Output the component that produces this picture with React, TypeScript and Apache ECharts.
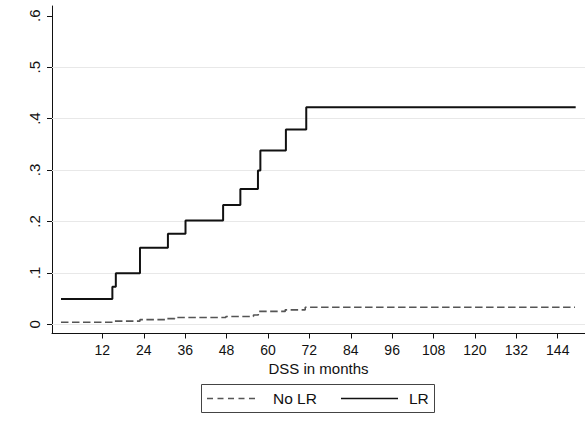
import React, { useEffect, useRef } from "react";
import * as echarts from "echarts";

// Data
const lrMonths = [0, 14.9, 15.9, 22.9, 31.0, 36.1, 47.0, 52.0, 57.1, 57.8, 65.2, 71.1, 149.2];
const lrValues = [0.049, 0.073, 0.099, 0.149, 0.176, 0.202, 0.232, 0.263, 0.299, 0.338, 0.379, 0.422, 0.422];
const noLrMonths = [0, 15.2, 22.9, 30.2, 33.0, 47.8, 55.8, 57.2, 65.0, 70.8, 149.0];
const noLrValues = [0.004, 0.006, 0.009, 0.011, 0.013, 0.015, 0.018, 0.025, 0.028, 0.033, 0.033];
const xTicks = [12, 24, 36, 48, 60, 72, 84, 96, 108, 120, 132, 144];
const yTicks = [0, 0.1, 0.2, 0.3, 0.4, 0.5, 0.6];
const gridValues = [0, 0.1, 0.2, 0.3, 0.4, 0.5];
const seriesNames = ["No LR", "LR"];
const xTitle = "DSS in months";

function stepPoints(xs: number[], ys: number[]): number[][] {
  const pts: number[][] = [[xs[0], ys[0]]];
  for (let i = 1; i < xs.length; i++) {
    pts.push([xs[i], ys[i - 1]]);
    pts.push([xs[i], ys[i]]);
  }
  return pts;
}

const FONT = "'Liberation Sans', Arial, sans-serif";

export default function App() {
  const ref = useRef<HTMLDivElement>(null);
  useEffect(() => {
    if (!ref.current) return;
    const chart = echarts.init(ref.current, null, { renderer: "svg" });
    chart.setOption({
      animation: false,
      backgroundColor: "#ffffff",
      textStyle: { fontFamily: FONT },
      grid: { left: 52, right: 0, top: 6, bottom: 95.5, containLabel: false, outerBoundsMode: "none" },
      xAxis: {
        type: "value",
        min: -2.6,
        max: 151.9,
        name: xTitle,
        nameLocation: "middle",
        nameGap: 26,
        nameTextStyle: { fontSize: 15, color: "#111", fontFamily: FONT },
        axisLine: { show: true, onZero: false, lineStyle: { color: "#111", width: 1 } },
        axisTick: { show: true, length: 5, customValues: xTicks, lineStyle: { color: "#111" } },
        axisLabel: { customValues: xTicks, fontSize: 14, color: "#111", margin: 9, fontFamily: FONT },
        splitLine: { show: false },
      },
      yAxis: {
        type: "value",
        min: -0.018,
        max: 0.619,
        axisLine: { show: true, onZero: false, lineStyle: { color: "#111", width: 1 } },
        axisTick: { show: true, length: 5, customValues: yTicks, lineStyle: { color: "#111" } },
        axisLabel: {
          customValues: yTicks,
          rotate: 90,
          fontSize: 15,
          color: "#111",
          margin: 10,
          fontFamily: FONT,
          formatter: (v: number) => (Math.abs(v) < 1e-9 ? "0" : v.toFixed(1).replace(/^0/, "")),
        },
        splitLine: { show: false },
      },
      series: [
        {
          name: seriesNames[0],
          type: "line",
          data: stepPoints(noLrMonths, noLrValues),
          showSymbol: false,
          symbol: "none",
          lineStyle: { color: "#555", width: 1.6, type: [7.5, 3.5] },
          z: 3,
          markLine: {
            silent: true,
            symbol: "none",
            label: { show: false },
            lineStyle: { color: "#e8e8e8", width: 1, type: "solid" },
            data: gridValues.map((v) => ({ yAxis: v })),
            z: 1,
          },
        },
        {
          name: seriesNames[1],
          type: "line",
          data: stepPoints(lrMonths, lrValues),
          showSymbol: false,
          symbol: "none",
          lineStyle: { color: "#111", width: 2 },
          z: 4,
        },
      ],
      graphic: [
        {
          type: "rect",
          shape: { x: 201.5, y: 384.5, width: 233, height: 28 },
          style: { fill: "none", stroke: "#444", lineWidth: 1 },
        },
        {
          type: "line",
          shape: { x1: 207, y1: 398.5, x2: 259, y2: 398.5 },
          style: { stroke: "#555", lineWidth: 1.5, lineDash: [6, 4.5] },
        },
        {
          type: "text",
          x: 273,
          y: 398.5,
          style: { text: seriesNames[0], fontSize: 15.5, fill: "#111", fontFamily: FONT, verticalAlign: "middle", align: "left" },
        },
        {
          type: "line",
          shape: { x1: 341, y1: 398.5, x2: 398, y2: 398.5 },
          style: { stroke: "#111", lineWidth: 1.5 },
        },
        {
          type: "text",
          x: 409,
          y: 398.5,
          style: { text: seriesNames[1], fontSize: 15.5, fill: "#111", fontFamily: FONT, verticalAlign: "middle", align: "left" },
        },
      ],
    });
    return () => chart.dispose();
  }, []);
  return (
    <div
      ref={ref}
      style={{ position: "absolute", left: 0, top: 0, width: 585, height: 429 }}
    />
  );
}
